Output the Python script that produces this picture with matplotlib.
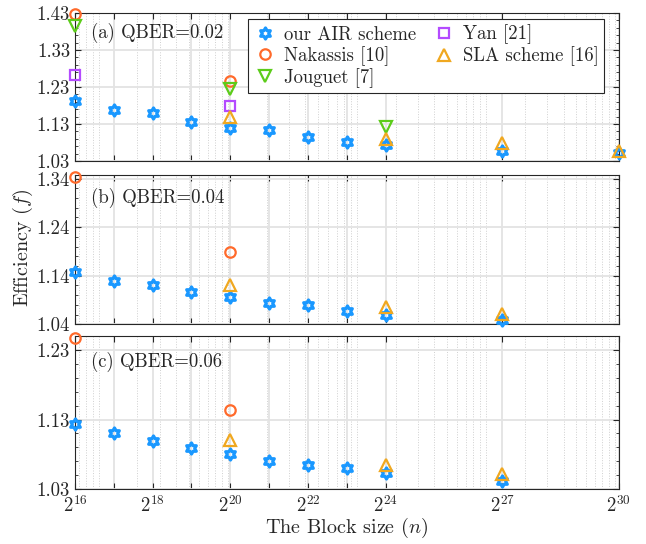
import numpy as np
import matplotlib
matplotlib.use('Agg')
import matplotlib.pyplot as plt
from matplotlib.ticker import FixedLocator, LogLocator, AutoMinorLocator, NullFormatter, FixedFormatter

plt.rcParams['font.family'] = 'serif'
plt.rcParams['font.serif'] = ['cmr10', 'DejaVu Serif']
plt.rcParams['mathtext.fontset'] = 'cm'
plt.rcParams['axes.formatter.use_mathtext'] = True

# block size exponents (n = 2^k)
air_exp = [16, 17, 18, 19, 20, 21, 22, 23, 24, 27, 30]

# (a) QBER = 0.02
air_a = [1.192, 1.169, 1.160, 1.135, 1.120, 1.114, 1.096, 1.081, 1.072, 1.057, 1.051]
nak_exp_a = [16, 20]
nak_a = [1.428, 1.246]
jou_exp_a = [16, 20, 24]
jou_a = [1.396, 1.225, 1.123]
yan_exp_a = [16, 20]
yan_a = [1.262, 1.178]
sla_exp_a = [20, 24, 27, 30]
sla_a = [1.150, 1.089, 1.078, 1.057]

# (b) QBER = 0.04
air_exp_b = [16, 17, 18, 19, 20, 21, 22, 23, 24, 27]
air_b = [1.147, 1.130, 1.120, 1.107, 1.096, 1.084, 1.079, 1.067, 1.060, 1.048]
nak_exp_b = [16, 20]
nak_b = [1.343, 1.188]
sla_exp_b = [20, 24, 27]
sla_b = [1.120, 1.075, 1.062]

# (c) QBER = 0.06
air_exp_c = [16, 17, 18, 19, 20, 21, 22, 23, 24, 27]
air_c = [1.123, 1.110, 1.099, 1.089, 1.080, 1.071, 1.064, 1.060, 1.053, 1.042]
nak_exp_c = [16, 20]
nak_c = [1.247, 1.144]
sla_exp_c = [20, 24, 27]
sla_c = [1.101, 1.064, 1.051]

xtick_exp = [16, 17, 18, 19, 20, 21, 22, 23, 24, 27, 30]
xlabel_exp = [16, 18, 20, 22, 24, 27, 30]

c_air = '#1a98ff'
c_nak = '#ff6a2b'
c_jou = '#5ccc1a'
c_yan = '#b44bff'
c_sla = '#f0a820'

def p2(e):
    return 2.0 ** np.array(e)

def hexagram():
    # star of David outline as a marker path
    ang_out = np.deg2rad(90 + 60 * np.arange(6))
    ang_in = ang_out + np.deg2rad(30)
    r_in = 1 / np.sqrt(3)
    verts = []
    for ao, ai in zip(ang_out, ang_in):
        verts.append((np.cos(ao), np.sin(ao)))
        verts.append((r_in * np.cos(ai), r_in * np.sin(ai)))
    verts.append(verts[0])
    return matplotlib.path.Path(verts, closed=True)

hexm = hexagram()
mkw = dict(linestyle='none', markerfacecolor='none', markeredgewidth=1.6, clip_on=False, zorder=5)
hkw = dict(linestyle='none', markerfacecolor='none', markeredgewidth=2.3, clip_on=False, zorder=5,
           marker=hexm, color=c_air, markersize=8)

fig = plt.figure(figsize=(6.46, 5.44), dpi=100)
left, width = 0.116, 0.842
ax_a = fig.add_axes([left, 0.704, width, 0.272])
ax_b = fig.add_axes([left, 0.404, width, 0.274])
ax_c = fig.add_axes([left, 0.101, width, 0.281])

ax_a.plot(p2(air_exp), air_a, label='our AIR scheme', **hkw)
ax_a.plot(p2(nak_exp_a), nak_a, marker='o', color=c_nak, markersize=7.5, label='Nakassis [10]', **mkw)
ax_a.plot(p2(jou_exp_a), jou_a, marker='v', color=c_jou, markersize=8, label='Jouguet [7]', **mkw)
ax_a.plot(p2(yan_exp_a), yan_a, marker='s', color=c_yan, markersize=7, label='Yan [21]', **mkw)
ax_a.plot(p2(sla_exp_a), sla_a, marker='^', color=c_sla, markersize=8, label='SLA scheme [16]', **mkw)

ax_b.plot(p2(air_exp_b), air_b, **hkw)
ax_b.plot(p2(nak_exp_b), nak_b, marker='o', color=c_nak, markersize=7.5, **mkw)
ax_b.plot(p2(sla_exp_b), sla_b, marker='^', color=c_sla, markersize=8, **mkw)

ax_c.plot(p2(air_exp_c), air_c, **hkw)
ax_c.plot(p2(nak_exp_c), nak_c, marker='o', color=c_nak, markersize=7.5, **mkw)
ax_c.plot(p2(sla_exp_c), sla_c, marker='^', color=c_sla, markersize=8, **mkw)

ylims = [(1.03, 1.43), (1.04, 1.347), (1.03, 1.25)]
yticks = [[1.03, 1.13, 1.23, 1.33, 1.43], [1.04, 1.14, 1.24, 1.34], [1.03, 1.13, 1.23]]
titles = ['(a) QBER=0.02', '(b) QBER=0.04', '(c) QBER=0.06']
title_y = [0.865, 0.846, 0.83]

for ax, yl, yt, tt, ty in zip([ax_a, ax_b, ax_c], ylims, yticks, titles, title_y):
    ax.set_xscale('log', base=2)
    ax.set_xlim(2 ** 16, 2 ** 30)
    ax.set_ylim(*yl)
    ax.set_yticks(yt)
    ax.set_yticklabels(['%.2f' % v for v in yt])
    ax.yaxis.set_minor_locator(AutoMinorLocator(5))
    ax.xaxis.set_major_locator(FixedLocator(p2(xtick_exp)))
    ax.xaxis.set_minor_locator(LogLocator(base=10, subs=np.arange(1, 10)))
    ax.xaxis.set_minor_formatter(NullFormatter())
    if ax is ax_c:
        ax.xaxis.set_major_formatter(FixedFormatter(
            [r'$2^{%d}$' % e if e in xlabel_exp else '' for e in xtick_exp]))
    else:
        ax.xaxis.set_major_formatter(NullFormatter())
    ax.grid(True, which='major', color='#e3e3e3', linewidth=1.3)
    ax.grid(True, which='minor', axis='x', color='#cfcfcf', linestyle=':', linewidth=0.7)
    ax.set_axisbelow(True)
    ax.tick_params(which='both', direction='in', top=True, right=True, labelsize=13.5, colors='#262626')
    ax.tick_params(which='major', length=4, width=0.8)
    ax.tick_params(axis='y', which='minor', length=2.5, width=0.6)
    ax.tick_params(axis='x', which='minor', length=0)
    ax.tick_params(axis='x', which='major', pad=4)
    for s in ax.spines.values():
        s.set_color('#262626')
        s.set_linewidth(0.8)
    ax.text(0.03, ty, tt, transform=ax.transAxes, fontsize=13.5, va='center', ha='left', color='#262626')

leg = ax_a.legend(loc='upper right', ncol=2, fontsize=13.5, frameon=True, fancybox=False,
                  edgecolor='#262626', framealpha=1, bbox_to_anchor=(0.98, 0.985),
                  handletextpad=0.4, columnspacing=0.9, labelspacing=0.12, borderpad=0.3,
                  handlelength=1.2, borderaxespad=0.2)
leg.get_frame().set_linewidth(0.8)
for t in leg.get_texts():
    t.set_color('#262626')

ax_c.set_xlabel(r'The Block size ($n$)', fontsize=14.5, color='#262626', labelpad=0)
fig.text(0.036, 0.545, r'Efficiency ($f$)', rotation=90, fontsize=14.5, va='center', ha='center', color='#262626')

fig.savefig('out.png', dpi=100)
